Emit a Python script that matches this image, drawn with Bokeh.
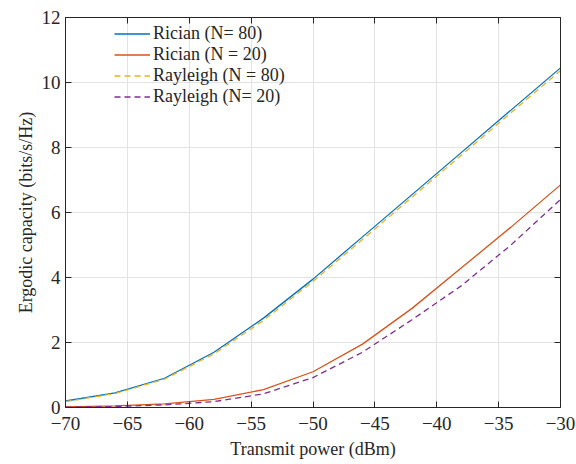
from bokeh.plotting import figure
from bokeh.models import FixedTicker, LinearAxis, Legend, LegendItem, Range1d, CustomJSTickFormatter
from bokeh.embed import file_html
from bokeh.resources import INLINE

power = [-70, -66, -62, -58, -54, -50, -46, -42, -38, -34, -30]
rician_80 = [0.20, 0.45, 0.90, 1.70, 2.75, 3.95, 5.25, 6.55, 7.85, 9.15, 10.45]
rician_20 = [0.02, 0.05, 0.11, 0.25, 0.55, 1.10, 1.95, 3.05, 4.30, 5.55, 6.85]
rayleigh_80 = [0.18, 0.43, 0.87, 1.65, 2.68, 3.88, 5.17, 6.47, 7.77, 9.07, 10.37]
rayleigh_20 = [0.01, 0.03, 0.08, 0.18, 0.42, 0.92, 1.70, 2.70, 3.75, 5.00, 6.40]

x_ticks = [-70, -65, -60, -55, -50, -45, -40, -35, -30]
y_ticks = [0, 2, 4, 6, 8, 10, 12]

FONT = "Liberation Serif"
TXT = "#262626"

p = figure(width=576, height=464, output_backend="svg", toolbar_location=None,
           x_range=Range1d(-70, -30), y_range=Range1d(0, 12),
           min_border_left=65, min_border_top=17, min_border_right=16, min_border_bottom=57)
p.outline_line_color = None
p.background_fill_color = "white"

r1 = p.line(power, rician_80, line_color="#0072BD", line_width=1.3)
r2 = p.line(power, rician_20, line_color="#D95319", line_width=1.3)
r3 = p.line(power, rayleigh_80, line_color="#EDB120", line_width=1.3, line_dash="6 4")
r4 = p.line(power, rayleigh_20, line_color="#7E2F8E", line_width=1.3, line_dash="6 4")

for ax in (p.xaxis[0], p.yaxis[0]):
    ax.major_tick_in = 6
    ax.major_tick_out = 0
    ax.minor_tick_line_color = None
    ax.axis_line_color = TXT
    ax.major_tick_line_color = TXT
    ax.major_label_text_font = FONT
    ax.major_label_text_font_size = "19px"
    ax.major_label_text_color = TXT
    ax.axis_label_text_font = FONT
    ax.axis_label_text_font_size = "18px"
    ax.axis_label_text_font_style = "normal"
    ax.axis_label_text_color = TXT

p.xaxis[0].ticker = FixedTicker(ticks=x_ticks)
p.xaxis[0].major_label_overrides = {t: ("\u2212" + str(-t)) for t in x_ticks}
p.xaxis[0].axis_label = "Transmit power (dBm)"
p.xaxis[0].axis_label_standoff = 6
p.xaxis[0].major_label_standoff = 9
p.yaxis[0].ticker = FixedTicker(ticks=y_ticks)
p.yaxis[0].axis_label = "Ergodic capacity (bits/s/Hz)"
p.yaxis[0].axis_label_standoff = 3
p.yaxis[0].major_label_standoff = 5

blank = CustomJSTickFormatter(code="return '';")
top = LinearAxis(ticker=FixedTicker(ticks=x_ticks), formatter=blank,
                 major_tick_in=6, major_tick_out=0, minor_tick_line_color=None,
                 axis_line_color=TXT, major_tick_line_color=TXT, major_label_standoff=0)
right = LinearAxis(ticker=FixedTicker(ticks=y_ticks), formatter=blank,
                   major_tick_in=6, major_tick_out=0, minor_tick_line_color=None,
                   axis_line_color=TXT, major_tick_line_color=TXT, major_label_standoff=0)
p.add_layout(top, "above")
p.add_layout(right, "right")

p.xgrid.ticker = FixedTicker(ticks=x_ticks)
p.ygrid.ticker = FixedTicker(ticks=y_ticks)
p.grid.grid_line_color = "#e3e3e3"
p.grid.grid_line_width = 1

legend = Legend(items=[
    LegendItem(label="Rician (N= 80)", renderers=[r1]),
    LegendItem(label="Rician (N = 20)", renderers=[r2]),
    LegendItem(label="Rayleigh (N = 80)", renderers=[r3]),
    LegendItem(label="Rayleigh (N= 20)", renderers=[r4]),
], location=(49, 300))
legend.border_line_color = None
legend.background_fill_alpha = 0
legend.label_text_font = FONT
legend.label_text_font_size = "18px"
legend.label_text_color = TXT
legend.glyph_width = 36
legend.glyph_height = 19
legend.label_height = 19
legend.label_standoff = 3
legend.spacing = 0
legend.padding = 0
legend.margin = 0
p.add_layout(legend, "center")

open("out.html", "w").write(file_html(p, INLINE))
